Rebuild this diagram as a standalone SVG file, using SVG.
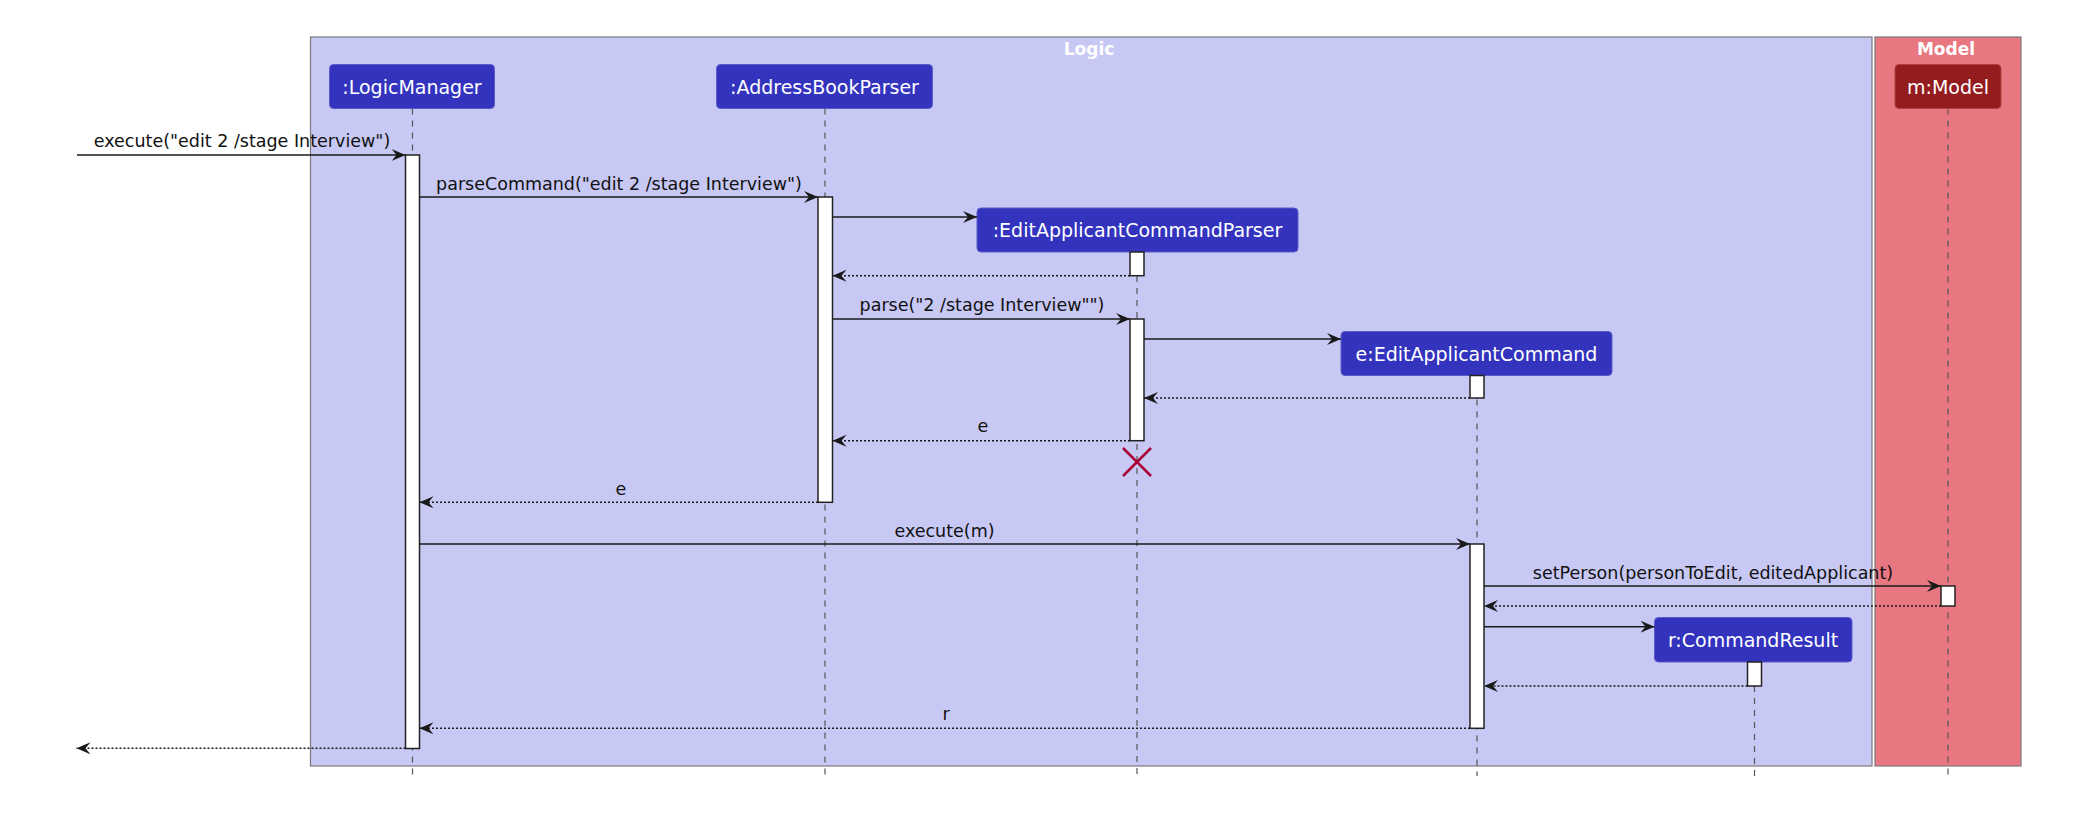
<svg xmlns="http://www.w3.org/2000/svg" width="2082" height="828" viewBox="0 0 2082 828">
<defs>
<style>
.frame{stroke:#7a7a7a;stroke-width:1.2}
.ftitle{font-family:"DejaVu Sans",sans-serif;font-weight:bold;font-size:17px;fill:#ffffff;text-anchor:middle}
.pbox{fill:#3333BE;stroke:#5b5bc8;stroke-width:1}
.mbox{fill:#931C1E;stroke:#b04040;stroke-width:1}
.pname{font-family:"DejaVu Sans",sans-serif;font-size:19px;fill:#ffffff;text-anchor:middle}
.life{stroke:#555555;stroke-width:1.2;stroke-dasharray:6,6;fill:none}
.act{fill:#ffffff;stroke:#222222;stroke-width:1.5}
.msg{stroke:#1a1a1a;stroke-width:1.6;fill:none;marker-end:url(#ah)}
.ret{stroke:#1a1a1a;stroke-width:1.6;fill:none;stroke-dasharray:2,2;marker-end:url(#ah)}
.lbl{font-family:"DejaVu Sans",sans-serif;font-size:17.5px;fill:#111111;text-anchor:middle}
</style>
<marker id="ah" markerUnits="userSpaceOnUse" markerWidth="16" markerHeight="14" refX="14" refY="6" orient="auto" viewBox="0 0 16 14">
<path d="M0,0 L14,6 L0,12 L5,6 Z" fill="#1a1a1a"/>
</marker>
</defs>

<g id="frames">
<rect class="frame" x="310.5" y="37" width="1561.5" height="729" fill="#C8C8F5"/>
<text class="ftitle" x="1089" y="55">Logic</text>
<rect class="frame" x="1875" y="37" width="146" height="729" fill="#E87781"/>
<text class="ftitle" x="1946" y="55">Model</text>
</g>

<g id="LogicManager">
<line class="life" x1="412.5" y1="108.5" x2="412.5" y2="776"/>
<rect class="pbox" x="329.5" y="64.5" width="165" height="44" rx="4"/>
<text class="pname" x="412" y="93.5">:LogicManager</text>
<rect class="act" x="405.5" y="155" width="14" height="593.5"/>
</g>

<g id="AddressBookParser">
<line class="life" x1="825" y1="108.5" x2="825" y2="776"/>
<rect class="pbox" x="716.5" y="64.5" width="216" height="44" rx="4"/>
<text class="pname" x="824.5" y="93.5">:AddressBookParser</text>
<rect class="act" x="818" y="197" width="14.5" height="305.3"/>
</g>

<g id="EditApplicantCommandParser">
<line class="life" x1="1137" y1="252" x2="1137" y2="776"/>
<rect class="pbox" x="977" y="208" width="321" height="44" rx="4"/>
<text class="pname" x="1137.5" y="237">:EditApplicantCommandParser</text>
<rect class="act" x="1130" y="252" width="14" height="23.7"/>
<rect class="act" x="1130" y="319" width="14" height="121.7"/>
<g id="destroy">
<line x1="1123" y1="448" x2="1151" y2="476" stroke="#A80036" stroke-width="2.5"/>
<line x1="1151" y1="448" x2="1123" y2="476" stroke="#A80036" stroke-width="2.5"/>
</g>
</g>

<g id="EditApplicantCommand">
<line class="life" x1="1477" y1="375.5" x2="1477" y2="776"/>
<rect class="pbox" x="1341" y="331.5" width="271" height="44" rx="4"/>
<text class="pname" x="1476.5" y="360.5">e:EditApplicantCommand</text>
<rect class="act" x="1470" y="375.5" width="14" height="22.5"/>
<rect class="act" x="1470" y="544" width="14" height="184.3"/>
</g>

<g id="CommandResult">
<line class="life" x1="1754.5" y1="662" x2="1754.5" y2="776"/>
<rect class="pbox" x="1654.5" y="617.5" width="197.5" height="44.5" rx="4"/>
<text class="pname" x="1753" y="647">r:CommandResult</text>
<rect class="act" x="1747.5" y="662" width="14" height="24"/>
</g>

<g id="Model">
<line class="life" x1="1948" y1="108.5" x2="1948" y2="776"/>
<rect class="mbox" x="1895" y="64.5" width="106" height="44" rx="4"/>
<text class="pname" x="1948" y="93.5">m:Model</text>
<rect class="act" x="1941" y="586" width="14" height="20"/>
</g>

<g id="connectors">
<line class="msg" x1="77" y1="155" x2="405.5" y2="155"/>
<text class="lbl" x="242" y="147">execute("edit 2  /stage Interview")</text>

<line class="msg" x1="419.5" y1="197" x2="818" y2="197"/>
<text class="lbl" x="619" y="190">parseCommand("edit 2  /stage Interview")</text>

<line class="msg" x1="832.5" y1="217" x2="977" y2="217"/>

<line class="ret" x1="1130" y1="275.7" x2="832.5" y2="275.7"/>

<line class="msg" x1="832.5" y1="319" x2="1130" y2="319"/>
<text class="lbl" x="982" y="311">parse("2 /stage Interview"")</text>

<line class="msg" x1="1144" y1="339" x2="1341" y2="339"/>

<line class="ret" x1="1470" y1="398" x2="1144" y2="398"/>

<line class="ret" x1="1130" y1="440.7" x2="832.5" y2="440.7"/>
<text class="lbl" x="983" y="432">e</text>

<line class="ret" x1="818" y1="502.3" x2="419.5" y2="502.3"/>
<text class="lbl" x="621" y="495">e</text>

<line class="msg" x1="419.5" y1="544" x2="1470" y2="544"/>
<text class="lbl" x="944.5" y="537">execute(m)</text>

<line class="msg" x1="1484" y1="586" x2="1941" y2="586"/>
<text class="lbl" x="1713" y="579">setPerson(personToEdit, editedApplicant)</text>

<line class="ret" x1="1941" y1="606" x2="1484" y2="606"/>

<line class="msg" x1="1484" y1="626.7" x2="1654.5" y2="626.7"/>

<line class="ret" x1="1747.5" y1="686" x2="1484" y2="686"/>

<line class="ret" x1="1470" y1="728.3" x2="419.5" y2="728.3"/>
<text class="lbl" x="946" y="720">r</text>

<line class="ret" x1="405.5" y1="748.3" x2="76.5" y2="748.3"/>
</g>
</svg>
